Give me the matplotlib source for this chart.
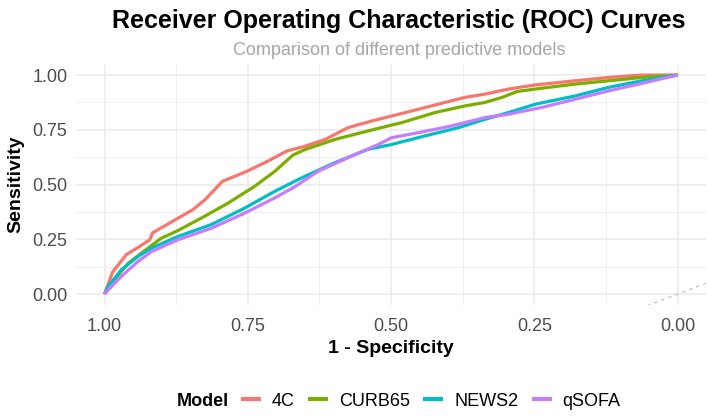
import matplotlib.pyplot as plt
import numpy as np

plt.rcParams['font.family'] = ['Liberation Sans', 'DejaVu Sans']

models = ['4C', 'CURB65', 'NEWS2', 'qSOFA']
colors = ['#F8766D', '#7CAE00', '#00BFC4', '#C77CFF']

# specificity (x, reversed axis) and sensitivity (y)
spec_4c = [1.0, 0.986, 0.962, 0.939, 0.921, 0.916, 0.886, 0.846, 0.825, 0.794, 0.752, 0.715, 0.682,
           0.650, 0.615, 0.575, 0.534, 0.499, 0.452, 0.406, 0.371, 0.336, 0.295, 0.248, 0.178, 0.12, 0.062, 0.0]
sens_4c = [0.0, 0.10, 0.18, 0.217, 0.248, 0.28, 0.325, 0.385, 0.43, 0.515, 0.56, 0.607, 0.653,
           0.675, 0.706, 0.76, 0.79, 0.813, 0.844, 0.875, 0.898, 0.913, 0.936, 0.955, 0.974, 0.989, 1.0, 1.0]

spec_curb = [1.0, 0.988, 0.959, 0.924, 0.901, 0.872, 0.831, 0.784, 0.738, 0.703, 0.671, 0.650, 0.598,
             0.540, 0.481, 0.423, 0.371, 0.336, 0.306, 0.28, 0.237, 0.178, 0.12, 0.062, 0.0]
sens_curb = [0.0, 0.05, 0.14, 0.21, 0.255, 0.29, 0.347, 0.416, 0.492, 0.56, 0.635, 0.66, 0.706,
             0.745, 0.783, 0.829, 0.859, 0.875, 0.898, 0.925, 0.94, 0.959, 0.974, 0.989, 1.0]

spec_news = [1.0, 0.994, 0.971, 0.942, 0.918, 0.872, 0.814, 0.755, 0.703, 0.668, 0.650, 0.598, 0.540,
             0.499, 0.441, 0.382, 0.336, 0.295, 0.248, 0.178, 0.12, 0.062, 0.0]
sens_news = [0.0, 0.034, 0.11, 0.171, 0.21, 0.263, 0.317, 0.393, 0.469, 0.515, 0.538, 0.6, 0.661,
             0.683, 0.722, 0.76, 0.798, 0.829, 0.867, 0.905, 0.944, 0.974, 1.0]

spec_qsofa = [1.0, 0.994, 0.971, 0.942, 0.918, 0.872, 0.814, 0.755, 0.703, 0.668, 0.627, 0.569, 0.522,
              0.499, 0.452, 0.394, 0.336, 0.295, 0.237, 0.178, 0.12, 0.062, 0.0]
sens_qsofa = [0.0, 0.018, 0.08, 0.148, 0.194, 0.248, 0.30, 0.37, 0.439, 0.49, 0.561, 0.63, 0.683,
              0.714, 0.737, 0.768, 0.806, 0.821, 0.852, 0.89, 0.928, 0.962, 1.0]

ticks = [1.0, 0.75, 0.5, 0.25, 0.0]
tick_labels = ['1.00', '0.75', '0.50', '0.25', '0.00']

fig = plt.figure(figsize=(7.09, 4.19), dpi=100)
ax = fig.add_axes([0.107, 0.272, 0.889, 0.575])

specs = [spec_4c, spec_curb, spec_news, spec_qsofa]
senss = [sens_4c, sens_curb, sens_news, sens_qsofa]
lines = []
for m, c, xs, ys in zip(models, colors, specs, senss):
    l, = ax.plot(xs, ys, color=c, lw=2.3, label=m, solid_capstyle='butt', zorder=3)
    lines.append(l)

# reference diagonal (ends up mostly outside the reversed panel)
d = np.array([0.2, -0.2])
ax.plot(d, -d, ls=(0, (3, 3)), color='#C4C4C4', lw=0.9, zorder=2)

ax.set_xlim(1.05, -0.05)
ax.set_ylim(-0.05, 1.05)
ax.set_xticks(ticks)
ax.set_xticklabels(tick_labels)
ax.set_yticks(ticks)
ax.set_yticklabels(tick_labels)
ax.set_xticks([0.875, 0.625, 0.375, 0.125], minor=True)
ax.set_yticks([0.875, 0.625, 0.375, 0.125], minor=True)
ax.grid(which='major', color='#EBEBEB', lw=1.1)
ax.grid(which='minor', color='#EBEBEB', lw=0.6)
ax.set_axisbelow(True)
for s in ax.spines.values():
    s.set_visible(False)
ax.tick_params(which='both', length=0, labelsize=13, labelcolor='#4D4D4D')
ax.tick_params(axis='x', pad=9)
ax.tick_params(axis='y', pad=6)

ax.set_xlabel('1 - Specificity', fontsize=14, fontweight='bold', labelpad=4)
ax.set_ylabel('Sensitivity', fontsize=14, fontweight='bold', labelpad=6)

fig.text(0.563, 0.933, 'Receiver Operating Characteristic (ROC) Curves', ha='center',
         va='baseline', fontsize=18, fontweight='bold')
fig.text(0.563, 0.869, 'Comparison of different predictive models', ha='center',
         va='baseline', fontsize=13, color='#A6A6A6')

fig.text(177 / 709, 1 - 401 / 419, 'Model', ha='left', va='center', fontsize=13, fontweight='bold')
fig.legend(handles=lines, labels=models, loc='center left', bbox_to_anchor=(241 / 709, 1 - 401 / 419),
           ncol=4, frameon=False, fontsize=13, handlelength=1.1, handletextpad=0.6,
           columnspacing=0.75, borderaxespad=0, borderpad=0)
for h in fig.legends[0].legend_handles:
    h.set_linewidth(3)

fig.savefig('out.png', dpi=100)
